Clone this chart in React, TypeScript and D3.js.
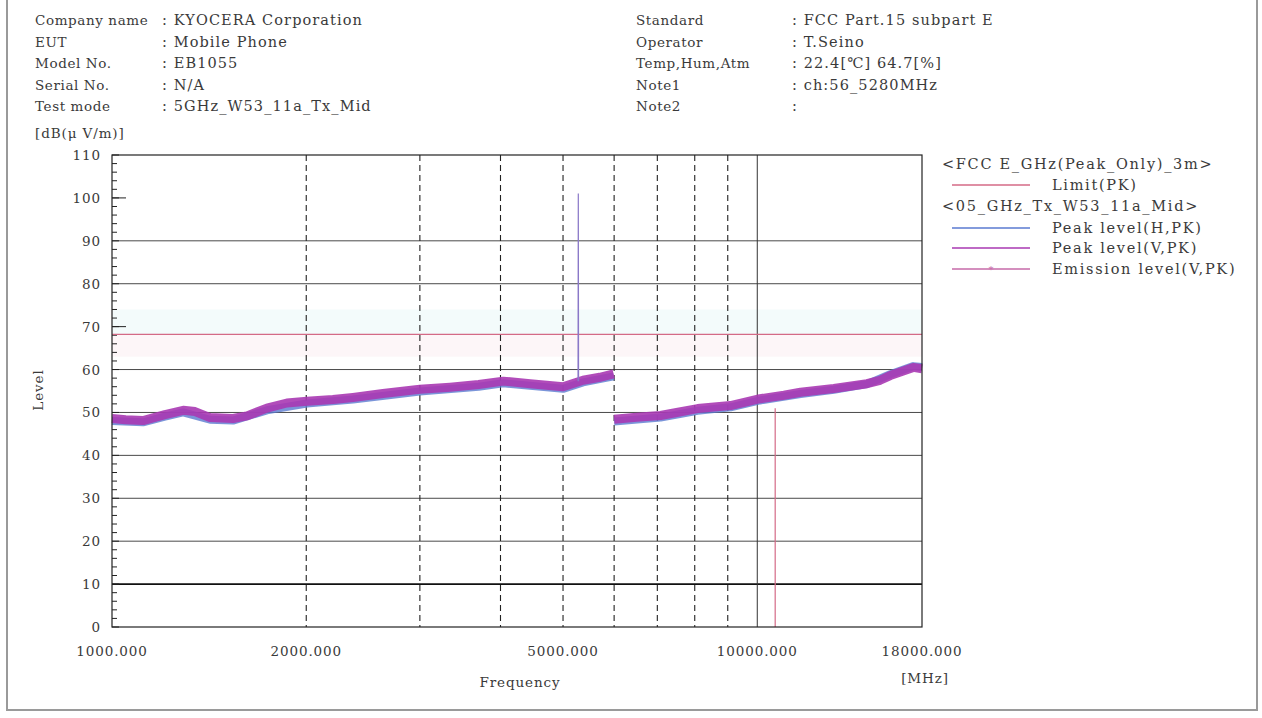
import React from "react";
import * as d3 from "d3";

// ---- data ----
const headerLeftLabels = ["Company name", "EUT", "Model No.", "Serial No.", "Test mode"];
const headerLeftValues = [": KYOCERA Corporation", ": Mobile Phone", ": EB1055", ": N/A", ": 5GHz_W53_11a_Tx_Mid"];
const headerRightLabels = ["Standard", "Operator", "Temp,Hum,Atm", "Note1", "Note2"];
const headerRightValues = [": FCC Part.15 subpart E", ": T.Seino", ": 22.4[\u2103] 64.7[%]", ": ch:56_5280MHz", ":"];

const yTicks = [0, 10, 20, 30, 40, 50, 60, 70, 80, 90, 100, 110];
const yGridLevels = [20, 30, 40, 50, 60, 80, 90];
const yLongTicks = [70, 100];
const xTickLabels = [1000, 2000, 5000, 10000, 18000];
const xDashedGrid = [2000, 3000, 4000, 5000, 6000, 7000, 8000, 9000];
const xSolidGrid = [10000];

const limitLevel = 68.2;

// Peak level (V,PK) — segment 1 (1-6 GHz) and segment 2 (6-18 GHz)
const vSeg1Freq = [1000, 1050, 1117, 1208, 1289, 1345, 1419, 1540, 1619, 1738, 1867, 2005, 2200, 2363, 2630, 3000, 3341, 3700, 4039, 4446, 5000, 5370, 5700, 5990];
const vSeg1Level = [48.6, 48.3, 48.1, 49.5, 50.5, 50.2, 48.8, 48.6, 49.2, 51.0, 52.2, 52.6, 53.0, 53.5, 54.4, 55.4, 55.9, 56.5, 57.3, 56.7, 56.0, 57.5, 58.2, 59.0];
const vSeg2Freq = [6000, 6500, 7080, 7500, 8080, 9090, 10100, 11000, 11670, 13140, 14790, 15500, 16070, 17450, 18000];
const vSeg2Level = [48.4, 48.9, 49.3, 50.0, 50.9, 51.6, 53.2, 54.0, 54.7, 55.6, 56.7, 57.5, 58.6, 60.5, 60.2];

// Peak level (H,PK)
const hSeg1Freq = [1000, 1117, 1208, 1289, 1419, 1540, 1738, 2005, 2363, 3000, 3700, 4039, 4446, 5000, 5370, 5990];
const hSeg1Level = [48.0, 47.7, 49.0, 50.0, 48.3, 48.1, 50.5, 52.1, 53.0, 54.9, 56.0, 56.8, 56.2, 55.5, 57.0, 58.4];
const hSeg2Freq = [6000, 7080, 8080, 9090, 10100, 11670, 13140, 14790, 16070, 17450, 18000];
const hSeg2Level = [47.9, 48.8, 50.4, 51.2, 52.8, 54.3, 55.3, 56.6, 58.9, 60.8, 60.6];

// carrier spike and drop-out
const spikeFreq = [5275, 5280, 5285];
const spikeLevel = [57.3, 101, 57.3];
const dropFreq = [10660, 10660];
const dropLevel = [51.0, 0];

const legendGroup1 = "<FCC E_GHz(Peak_Only)_3m>";
const legendGroup2 = "<05_GHz_Tx_W53_11a_Mid>";
const legendItems = ["Limit(PK)", "Peak level(H,PK)", "Peak level(V,PK)", "Emission level(V,PK)"];

const COL_LIMIT = "#d46a86";
const COL_H = "#5a7ad0";
const COL_V = "#a838b2";
const COL_EMI = "#c66aa8";
const FONT = "'DejaVu Serif', 'Liberation Serif', serif";
const TXT = "#3a3a3a";
const FS = 13.5;
const LS = 0.9;
const HLFS = 13.5;
const HLLS = 0.6;
const HFS = 14.5;
const HLS = 1.1;
const LGFS = 14.5;
const LGLS = 1.7;

export default function App() {
  const L = 112, R = 922, T = 155, B = 627;
  const x = d3.scaleLog().domain([1000, 18000]).range([L, R]);
  const y = d3.scaleLinear().domain([0, 110]).range([B, T]);
  const line = d3.line<[number, number]>().x((d) => x(d[0])).y((d) => y(d[1]));
  const zip = (a: number[], b: number[]) => a.map((v, i) => [v, b[i]] as [number, number]);

  const minorTicks = d3.range(0, 111, 2);

  const rowY = (i: number) => 25 + i * 21.5;
  const legRows = [164, 185, 206, 228, 248, 269];

  const T_ = (props: any) => <text fontSize={FS} fill={TXT} letterSpacing={LS} {...props} />;
  const HL_ = (props: any) => <text fontSize={HLFS} fill={TXT} letterSpacing={HLLS} {...props} />;
  const H_ = (props: any) => <text fontSize={HFS} fill={TXT} letterSpacing={HLS} {...props} />;
  const G_ = (props: any) => <text fontSize={LGFS} fill={TXT} letterSpacing={LGLS} {...props} />;

  return (
    <svg width={1262} height={718} style={{ position: "absolute", left: 0, top: 0, background: "#fff" }} fontFamily={FONT}>
      <rect x={0} y={0} width={1262} height={718} fill="#fff" />
      {/* page frame */}
      <path d="M7,-2 V710 H1257 V-2" fill="none" stroke="#9a9a9a" strokeWidth={2} />

      {/* header */}
      {headerLeftLabels.map((t, i) => (
        <HL_ key={"hl" + i} x={35} y={rowY(i)}>{t}</HL_>
      ))}
      {headerLeftValues.map((t, i) => (
        <H_ key={"hv" + i} x={162} y={rowY(i)}>{t}</H_>
      ))}
      {headerRightLabels.map((t, i) => (
        <HL_ key={"rl" + i} x={636} y={rowY(i)}>{t}</HL_>
      ))}
      {headerRightValues.map((t, i) => (
        <H_ key={"rv" + i} x={792} y={rowY(i)}>{t}</H_>
      ))}
      <T_ x={35} y={138}>[dB(μ V/m)]</T_>

      {/* faint band near limit */}
      <rect x={L} y={y(74)} width={R - L} height={y(limitLevel) - y(74)} fill="#f3fbfb" />
      <rect x={L} y={y(limitLevel)} width={R - L} height={y(63) - y(limitLevel)} fill="#fdf6f8" />

      {/* horizontal grid */}
      {yGridLevels.map((v) => (
        <line key={"hg" + v} x1={L} x2={R} y1={y(v)} y2={y(v)} stroke="#4a4a4a" strokeWidth={1} />
      ))}
      <line x1={L} x2={R} y1={y(10)} y2={y(10)} stroke="#111" strokeWidth={1.6} />

      {/* vertical grid */}
      {xDashedGrid.map((f) => (
        <line key={"vg" + f} x1={x(f)} x2={x(f)} y1={T} y2={B} stroke="#222" strokeWidth={1.1} strokeDasharray="6,4" />
      ))}
      {xSolidGrid.map((f) => (
        <line key={"vs" + f} x1={x(f)} x2={x(f)} y1={T} y2={B} stroke="#333" strokeWidth={1} />
      ))}

      {/* y minor ticks */}
      {minorTicks.map((v) => (
        <line key={"mt" + v} x1={L} x2={L + (v % 10 === 0 ? 7 : 5)} y1={y(v)} y2={y(v)} stroke="#222" strokeWidth={1} />
      ))}
      {yLongTicks.map((v) => (
        <line key={"lt" + v} x1={L} x2={L + 14} y1={y(v)} y2={y(v)} stroke="#222" strokeWidth={1} />
      ))}

      {/* limit line */}
      <line x1={L} x2={R} y1={y(limitLevel)} y2={y(limitLevel)} stroke={COL_LIMIT} strokeWidth={1.3} />

      {/* traces */}
      <path d={line(zip(hSeg1Freq, hSeg1Level)) || ""} fill="none" stroke={COL_H} strokeWidth={8} strokeLinejoin="round" opacity={0.8} />
      <path d={line(zip(hSeg2Freq, hSeg2Level)) || ""} fill="none" stroke={COL_H} strokeWidth={8} strokeLinejoin="round" opacity={0.8} />
      <path d={line(zip(vSeg1Freq, vSeg1Level)) || ""} fill="none" stroke={COL_V} strokeWidth={9} strokeLinejoin="round" opacity={0.9} />
      <path d={line(zip(vSeg2Freq, vSeg2Level)) || ""} fill="none" stroke={COL_V} strokeWidth={9} strokeLinejoin="round" opacity={0.9} />
      <path d={line(zip(spikeFreq, spikeLevel)) || ""} fill="none" stroke="#8a78c8" strokeWidth={1.2} />
      <path d={line(zip(dropFreq, dropLevel)) || ""} fill="none" stroke={COL_LIMIT} strokeWidth={1.2} />

      {/* plot frame */}
      <rect x={L} y={T} width={R - L} height={B - T} fill="none" stroke="#222" strokeWidth={1.2} />

      {/* y labels */}
      {yTicks.map((v) => (
        <T_ key={"yl" + v} x={101} y={y(v) + 5} textAnchor="end">{v}</T_>
      ))}
      {/* x labels */}
      {xTickLabels.map((f) => (
        <T_ key={"xl" + f} x={x(f)} y={656} textAnchor="middle">{d3.format(".3f")(f)}</T_>
      ))}
      <T_ x={520} y={687} textAnchor="middle">Frequency</T_>
      <T_ x={925} y={683} textAnchor="middle">[MHz]</T_>
      <T_ transform="translate(43,390) rotate(-90)" textAnchor="middle">Level</T_>

      {/* legend */}
      <G_ x={942} y={legRows[0] + 5}>{legendGroup1}</G_>
      <line x1={952} x2={1030} y1={legRows[1]} y2={legRows[1]} stroke={COL_LIMIT} strokeWidth={1.3} />
      <G_ x={1052} y={legRows[1] + 5}>{legendItems[0]}</G_>
      <G_ x={942} y={legRows[2] + 5}>{legendGroup2}</G_>
      <line x1={952} x2={1030} y1={legRows[3]} y2={legRows[3]} stroke={COL_H} strokeWidth={1.3} />
      <G_ x={1052} y={legRows[3] + 5}>{legendItems[1]}</G_>
      <line x1={952} x2={1030} y1={legRows[4]} y2={legRows[4]} stroke={COL_V} strokeWidth={1.3} />
      <G_ x={1052} y={legRows[4] + 5}>{legendItems[2]}</G_>
      <line x1={952} x2={1030} y1={legRows[5]} y2={legRows[5]} stroke={COL_EMI} strokeWidth={1.3} />
      <text x={991} y={legRows[5] + 4} fontSize={10} textAnchor="middle" fill={COL_EMI}>*</text>
      <G_ x={1052} y={legRows[5] + 5}>{legendItems[3]}</G_>
    </svg>
  );
}
